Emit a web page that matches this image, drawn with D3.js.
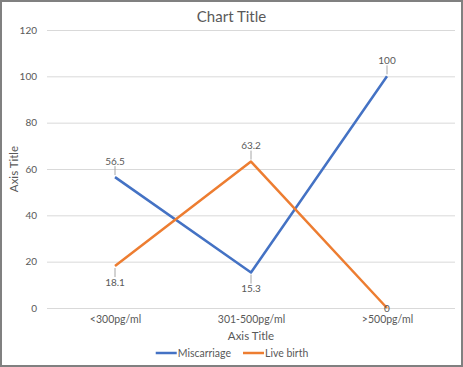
<!DOCTYPE html>
<html>
<head>
<meta charset="utf-8">
<script src="https://cdn.jsdelivr.net/npm/d3@7"></script>
<style>
  html, body { margin: 0; padding: 0; background: #fff; }
  svg { display: block; font-family: Lato, "Open Sans", sans-serif; }
</style>
</head>
<body>
<div id="chart"></div>
<script>
// données
const categories = ["<300pg/ml", "301-500pg/ml", ">500pg/ml"];
const miscarriage = [56.5, 15.3, 100];
const liveBirth = [18.1, 63.2, 0];
const yTicks = [0, 20, 40, 60, 80, 100, 120];
const seriesNames = ["Miscarriage", "Live birth"];
const colors = ["#4472c4", "#ed7d31"];
// position des étiquettes : -1 au-dessus, 1 en dessous, 0 sur le point
const labelPos = [[-1, 1, -1], [1, -1, 0]];

const width = 463;
const height = 367;
const marginLeft = 47;
const marginRight = 8;
const marginTop = 30;
const marginBottom = 59;
const font = "Lato, Open Sans, sans-serif";

const svg = d3.select("#chart").append("svg")
    .attr("width", width)
    .attr("height", height)
    .attr("viewBox", [0, 0, width, height]);

svg.append("rect")
    .attr("x", 1).attr("y", 1)
    .attr("width", width - 2).attr("height", height - 2)
    .attr("fill", "#fff")
    .attr("stroke", "#808080")
    .attr("stroke-width", 2);

const x = d3.scalePoint()
    .domain(categories)
    .range([marginLeft, width - marginRight])
    .padding(0.5);

const y = d3.scaleLinear()
    .domain([0, 120])
    .range([height - marginBottom, marginTop]);

// grille + ticks Y
svg.append("g")
    .attr("transform", `translate(${marginLeft},0)`)
    .call(d3.axisLeft(y).tickValues(yTicks).tickSize(0).tickPadding(10))
    .call(g => g.select(".domain").remove())
    .call(g => g.selectAll(".tick line").clone()
        .attr("stroke", "#d9d9d9")
        .attr("stroke-width", 1)
        .attr("x2", width - marginLeft - marginRight))
    .call(g => g.selectAll(".tick text")
        .attr("fill", "#595959")
        .attr("font-size", "10px")
        .attr("font-family", font));

// axe X
svg.append("g")
    .attr("transform", `translate(0,${height - marginBottom})`)
    .call(d3.axisBottom(x).tickSize(0).tickPadding(8))
    .call(g => g.select(".domain").remove())
    .call(g => g.selectAll(".tick text")
        .attr("fill", "#595959")
        .attr("font-size", "10.5px")
        .attr("font-family", font));

svg.append("text")
    .attr("x", width / 2)
    .attr("y", 22)
    .attr("text-anchor", "middle")
    .attr("fill", "#595959")
    .attr("font-size", "15px")
    .text("Chart Title");

svg.append("text")
    .attr("x", (marginLeft + width - marginRight) / 2)
    .attr("y", 340)
    .attr("text-anchor", "middle")
    .attr("fill", "#595959")
    .attr("font-size", "11.5px")
    .text("Axis Title");

svg.append("text")
    .attr("transform", "rotate(-90)")
    .attr("x", -(marginTop + height - marginBottom) / 2)
    .attr("y", 18)
    .attr("text-anchor", "middle")
    .attr("fill", "#595959")
    .attr("font-size", "11.5px")
    .text("Axis Title");

const series = [miscarriage, liveBirth].map((values, i) => ({
    name: seriesNames[i],
    color: colors[i],
    values: values.map((v, j) => ({ cat: categories[j], value: v, pos: labelPos[i][j] }))
}));

const line = d3.line()
    .x(d => x(d.cat))
    .y(d => y(d.value));

svg.append("g")
    .selectAll("path")
    .data(series)
    .join("path")
    .attr("fill", "none")
    .attr("stroke", d => d.color)
    .attr("stroke-width", 2.5)
    .attr("stroke-linejoin", "round")
    .attr("d", d => line(d.values));

// étiquettes de données avec lignes de repère
const labels = svg.append("g")
    .selectAll("g")
    .data(series.flatMap(s => s.values))
    .join("g")
    .attr("transform", d => `translate(${x(d.cat)},${y(d.value)})`);

labels.filter(d => d.pos !== 0).append("line")
    .attr("stroke", "#a6a6a6")
    .attr("stroke-width", 1)
    .attr("y1", d => d.pos * 2)
    .attr("y2", d => d.pos * 11);

labels.append("text")
    .attr("text-anchor", "middle")
    .attr("fill", "#595959")
    .attr("font-size", "10px")
    .attr("y", d => d.pos === 0 ? 0 : d.pos * 16)
    .attr("dy", "0.35em")
    .text(d => d.value);

// légende, centrée sous le graphique
const legendG = svg.append("g");
const legend = legendG.selectAll("g")
    .data(series)
    .join("g");

legend.append("line")
    .attr("x1", 0).attr("x2", 21)
    .attr("stroke", d => d.color)
    .attr("stroke-width", 2.5);

legend.append("text")
    .attr("x", 22)
    .attr("dy", "0.35em")
    .attr("fill", "#595959")
    .attr("font-size", "10.5px")
    .text(d => d.name);

let offset = 0;
legend.each(function () {
    const w = 22 + d3.select(this).select("text").node().getComputedTextLength();
    d3.select(this).attr("transform", `translate(${offset},0)`);
    offset += w + 12;
});
const legendWidth = offset - 12;
legendG.attr("transform", `translate(${232 - legendWidth / 2},353)`);
</script>
</body>
</html>
